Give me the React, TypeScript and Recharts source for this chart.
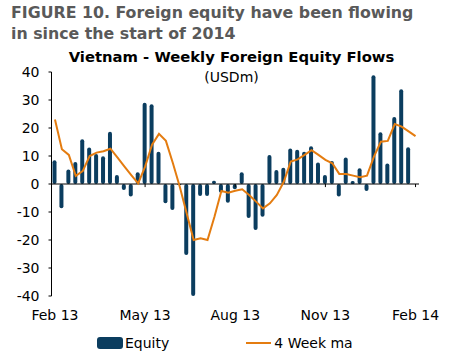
import { ComposedChart, Bar, Line, XAxis, YAxis, ReferenceLine } from "recharts"

// weekly foreign equity flows, USDm (Feb 13 .. Feb 14)
const equity = [
  8.5, -8.7, 5.2, 7.9, 16, 13, 10.7, 9.9, 18.7, 3.2, -2.1, -4.5, 4.2,
  29, 28.5, 11.5, -6.9, -9.3, -0.4, -25.4, -40, -4.3, -4.3, 1.2, -3.1, -6.7,
  -1.9, 4.2, -12.1, -16.4, -11.7, 10.4, 5, 5.8, 12.7, 12.2, 11.5, 13.5, 7.7,
  3.2, 8.2, -4.5, 9.5, 1.1, 5.6, -2.5, 38.8, 18.5, 7.3, 23.9, 33.8, 13.1,
]

// 4 week moving average
const movingAvg = [
  23, 12.4, 10.4, 2.9, 4.6, 10, 11.2, 11.7, 12.6, 9.5, 6.3, 3.2, 0.2,
  6.2, 14, 17.9, 15.4, 7.5, -1, -10.5, -20, -19.4, -20, -11.7, -2.5, -3.1,
  -2.4, -1.9, -3.9, -6.3, -8.7, -6.9, -3.9, 0.8, 8, 8.8, 10.4, 12.1, 10.4,
  8.6, 7.4, 3.6, 3.6, 3, 2.4, 3, 9.8, 15.1, 15.4, 21.4, 20.5, 18.8, 17.1,
]

const tickLabels = ["Feb 13", "May 13", "Aug 13", "Nov 13", "Feb 14"]
const tickWeeks = [13, 26, 39, 52]
const yTicks = [-40, -30, -20, -10, 0, 10, 20, 30, 40]

const data = movingAvg.map((ma, i) => ({
  week: i,
  equity: i < equity.length ? equity[i] : null,
  ma,
}))

const navy = "#0b3d5f"
const orange = "#e47c10"
const font = "'DejaVu Sans', Verdana, sans-serif"

export default function App() {
  return (
    <div style={{ position: "absolute", left: 0, top: 0, width: 450, height: 364, background: "#fff" }}>
      {/* Figure heading */}
      <div
        style={{
          position: "absolute",
          left: 11,
          top: 2,
          fontFamily: font,
          fontWeight: "bold",
          fontSize: 15.8,
          lineHeight: "21px",
          color: "#595959",
          whiteSpace: "nowrap",
        }}
      >
        FIGURE 10. Foreign equity have been flowing
        <br />
        in since the start of 2014
      </div>
      <div
        style={{
          position: "absolute",
          left: 0,
          width: 463,
          top: 47,
          textAlign: "center",
          fontFamily: font,
          fontSize: 14.8,
          lineHeight: "20px",
          color: "#000",
          whiteSpace: "nowrap",
        }}
      >
        <div style={{ fontWeight: "bold" }}>Vietnam - Weekly Foreign Equity Flows</div>
        <div style={{ fontSize: 14 }}>(USDm)</div>
      </div>

      <ComposedChart
        width={450}
        height={364}
        data={data}
        margin={{ top: 72, right: 31, bottom: 38, left: 0 }}
        barCategoryGap="40%"
        style={{ fontFamily: font }}
      >
        <XAxis
          dataKey="week"
          interval={12}
          tickFormatter={(v: number) => tickLabels[Math.round(v / 13)]}
          axisLine={false}
          tickLine={false}
          height={30}
          tickSize={6}
          tickMargin={8}
          tick={{ fontSize: 14, fill: "#000" }}
        />
        <YAxis
          domain={[-40, 40]}
          ticks={yTicks}
          width={51.5}
          tickSize={3}
          tickMargin={9}
          axisLine={{ stroke: "#000" }}
          tickLine={{ stroke: "#000" }}
          tick={{ fontSize: 14, fill: "#000" }}
        />
        <ReferenceLine y={0} stroke="#000" strokeWidth={1} />
        {/* small tick marks hanging under the zero axis */}
        {tickWeeks.map((w) => (
          <ReferenceLine
            key={w}
            segment={[
              { x: w, y: 0 },
              { x: w, y: -1.1 },
            ]}
            stroke="#000"
            strokeWidth={1}
          />
        ))}
        <Bar dataKey="equity" name="Equity" fill={navy} barSize={4} radius={2} isAnimationActive={false} />
        <Line
          dataKey="ma"
          name="4 Week ma"
          type="linear"
          stroke={orange}
          strokeWidth={2}
          dot={false}
          isAnimationActive={false}
        />
      </ComposedChart>

      {/* Legend */}
      <div
        style={{
          position: "absolute",
          left: 0,
          top: 334,
          display: "flex",
          fontFamily: font,
          fontSize: 14,
          lineHeight: "18px",
          color: "#000",
        }}
      >
        <div style={{ display: "flex", alignItems: "center", marginLeft: 97 }}>
          <div style={{ width: 26, height: 12, background: navy, borderRadius: 3 }} />
          <span style={{ marginLeft: 2 }}>Equity</span>
        </div>
        <div style={{ display: "flex", alignItems: "center", marginLeft: 77 }}>
          <div style={{ width: 25, height: 2, background: orange }} />
          <span style={{ marginLeft: 3 }}>4 Week ma</span>
        </div>
      </div>
    </div>
  )
}
